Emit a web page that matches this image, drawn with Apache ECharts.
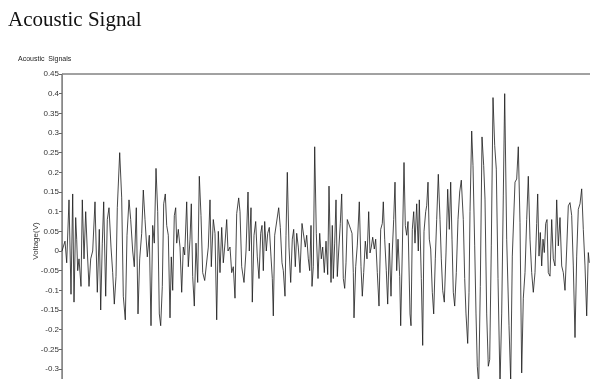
<!DOCTYPE html>
<html>
<head>
<meta charset="utf-8">
<script src="https://cdn.jsdelivr.net/npm/echarts@6/dist/echarts.min.js"></script>
<style>
  html, body { margin: 0; padding: 0; background: #fff; overflow: hidden; }
  #chart { width: 600px; height: 440px; }
</style>
</head>
<body>
<div id="chart"></div>
<script>
// time of each sample (ms) and the voltage read at it
const time = [
  0, 3, 4.7, 7, 9, 10.7, 12, 13.7, 14.7, 15.7, 17, 19, 20.3, 22, 23.7, 25.3, 27, 28.7, 30.7, 33,
  35.3, 37.3, 38.7, 40.3, 41.7, 43.7, 45.3, 47, 49, 50.7, 52.3, 54, 55.3, 57.7, 59.7, 61.3, 63.3, 65, 67, 68.7,
  70.7, 72.3, 74.3, 76, 77.7, 79.7, 81.3, 83, 85.3, 87.3,
  89, 90.7, 92.3, 94, 95.7, 97.3, 98.7, 100.3, 101.7, 103.3, 104.7, 106.3, 108, 109.3, 110.7, 112.3, 113.7, 114.7, 116.3, 118,
  119.7, 121.3, 122.7, 124.7, 126.3, 128, 129.3, 130.7, 132.3, 134, 135.7, 137.3, 139, 140.7, 142.7, 144.7, 146.3, 148, 149.3, 151.3,
  153, 154.7, 156.3, 158, 159.7, 161.3, 163, 164.7, 166, 168, 169.7, 171.3, 173, 174.7, 176.7,
  178, 179.7, 182, 184, 186, 187.3, 189, 190.3, 192, 193.7, 195.3, 197, 198.7, 200, 201.3, 202.7, 204.3, 205.7, 207.3, 209,
  210.3, 211.3, 212.7, 214.7, 216.7, 218.3, 220, 221.3, 223, 224, 225.3, 227, 228.7, 230.3, 231.7, 233.3, 234.7, 236.3, 238, 240,
  241.7, 243.3, 244.7, 246.3, 247.7, 249, 250, 251.3, 252.7, 254.3, 256, 257.7, 259.3, 260.7, 262.3, 264, 265.7, 267,
  269, 270.3, 271.3, 272.7, 274, 275.3, 276.7, 278.3, 279.7, 281.3, 282.7, 284, 285.3, 287, 288.7, 290, 291.3, 292, 293.7, 295.3,
  297.3, 299, 300.3, 301.7, 303.3, 305, 306.7, 308, 309.3, 310.7, 312.3, 313.7, 315.3, 317, 318.7, 320.3, 321.3, 322.7, 324.3, 325.7,
  327.3, 329, 330.3, 331.7, 333, 334.7, 336, 337.7, 338.7, 340.3, 342, 343.3, 344.7, 346, 348, 349, 350.3, 351.7, 353, 354.7,
  356.3, 357.3,
  359.3, 360.7, 362, 363.7, 364.7, 366, 367.3, 368.7, 370.3, 371.7, 373.3, 374.7, 376.3, 378, 379.3, 380.7, 382.3, 384, 385.7, 387.3,
  388.7, 390, 391.3, 392.7, 394.3, 396, 397.7, 399.3, 401.3, 402.7, 404, 405.7, 407, 408, 409.7, 411, 412.7, 414, 415.3, 416.7,
  418.3, 420, 421.7, 423, 424.7, 426.3, 427.7, 429.3, 431, 432.7, 434.3, 436, 438, 439.7, 441.3, 442.7,
  444.7, 447, 448.7, 450.3, 453, 454.7, 456.3, 458, 459.7, 461.3, 463, 464.7, 466.3, 468, 469.7, 471.3, 473, 474.7, 475.7, 477,
  478.3, 479.7, 481, 482.3, 483.7, 485, 486.3, 488, 489.7, 491.3, 493, 494.7, 496.3, 498, 499.7, 501.3, 503, 504.7, 506.3, 508,
  509.7, 511.3, 513, 514.7, 516.3, 518, 519.7, 521.3, 523, 524.7, 526.3, 527.3
]

const voltage = [
  0, 0.025, -0.03, 0.13, -0.11, 0.145, -0.13, 0.085, 0.03, -0.05, -0.02, -0.09, 0.13, -0.02, 0.1, 0, -0.09, -0.02, 0, 0.125,
  -0.105, 0.055, -0.15, 0.02, 0.125, -0.115, 0.08, 0.11, 0.01, -0.055, -0.135, -0.065, 0.11, 0.25, 0.135, -0.115, -0.175, 0.04, 0.13, 0.08,
  0, -0.04, 0.11, -0.16, -0.02, 0.045, 0.155, 0.08, -0.015, 0.04,
  -0.19, 0.065, 0.02, 0.21, 0.1, -0.16, -0.19, -0.09, 0.12, 0.145, 0.065, 0.04, -0.17, -0.015, -0.1, 0.09, 0.11, 0.02, 0.055, 0.01,
  -0.105, 0.01, -0.01, 0.125, -0.04, 0.03, 0.12, -0.065, -0.14, 0.02, -0.08, 0.19, 0.09, -0.055, -0.075, -0.07, 0.01, 0.13, -0.04, 0.08,
  0.045, -0.175, 0.05, -0.055, 0.06, -0.03, 0.02, 0.08, 0, 0.01, -0.055, -0.04, -0.12, 0.095, 0.135,
  0.1, -0.04, -0.08, 0, 0.15, 0, 0.11, -0.13, 0.04, 0.075, -0.015, -0.07, 0.045, 0.065, -0.05, 0.075, 0, 0.045, 0.06, -0.015,
  -0.07, -0.165, 0.04, 0.045, 0.11, 0.06, -0.03, -0.05, -0.115, 0.04, 0.2, 0.01, -0.08, 0.03, 0.055, -0.04, 0.045, 0.01, -0.055, 0.07,
  0.065, 0.01, 0.04, -0.02, -0.05, 0.065, -0.09, -0.04, 0.265, 0.045, -0.07, 0.045, -0.02, 0.01, -0.055, 0.025, -0.06, 0.165,
  -0.08, 0.065, -0.07, 0.02, 0.13, -0.065, 0, 0.07, 0.145, -0.07, -0.095, -0.03, 0.08, 0.085, 0.055, 0.045, -0.055, -0.17, -0.04, 0.015,
  0.125, -0.04, -0.115, -0.055, 0.025, -0.02, 0.1, -0.005, 0.01, 0.035, 0.005, 0.03, -0.055, -0.14, 0.055, 0.07, 0.125, 0.03, -0.05, -0.135,
  0.02, -0.115, 0, 0.08, 0.175, -0.05, 0.03, -0.065, -0.19, 0, 0.225, 0.065, 0.04, 0.075, -0.16, -0.19, 0.055, 0.1, 0.02, 0.12,
  0, 0.13,
  -0.07, -0.24, 0.05, 0.1, 0.115, 0.175, 0.03, 0.005, -0.105, -0.16, -0.02, 0.08, 0.195, 0.08, -0.02, -0.1, -0.13, -0.005, 0.157, 0.055,
  0.175, 0.03, -0.105, -0.14, -0.055, 0.08, 0.15, 0.18, 0.08, -0.07, -0.16, -0.235, -0.105, 0.1, 0.305, 0.217, 0.013, -0.16, -0.293, -0.34,
  -0.09, 0.29, 0.217, 0.132, -0.16, -0.293, -0.276, 0.013, 0.39, 0.268, 0.208, -0.07, -0.34, -0.16, 0.14, 0.4,
  0.03, -0.19, -0.33, -0.013, 0.175, 0.183, 0.265, 0.072, -0.31, -0.12, -0.055, 0.08, 0.19, 0.03, -0.055, -0.105, -0.055, 0.07, 0.145, -0.013,
  0.047, -0.038, 0.03, -0.004, 0.07, 0.08, -0.055, -0.064, 0.08, -0.02, -0.038, 0.13, 0.013, 0.085, -0.038, -0.055, -0.1, 0.005, 0.115, 0.123,
  0.09, -0.038, -0.22, -0.013, 0.106, 0.12, 0.158, 0.055, -0.038, -0.165, -0.004, -0.03
]

const myChart = echarts.init(document.getElementById('chart'))

const option = {
  animation: false,
  title: {
    text: 'Acoustic Signal',
    left: 3,
    top: 5,
    textStyle: {
      fontFamily: 'Liberation Serif',
      fontSize: 21,
      fontWeight: 'normal',
      color: '#111'
    }
  },
  graphic: [
    {
      type: 'text',
      left: 18,
      top: 56,
      style: {
        text: 'Acoustic  Signals',
        font: '7px "Liberation Sans"',
        fill: '#222'
      }
    },
    {
      type: 'text',
      x: 36,
      y: 241,
      rotation: Math.PI / 2,
      style: {
        text: 'Voltage(V)',
        font: '8px "Liberation Sans"',
        fill: '#333',
        align: 'center',
        verticalAlign: 'middle'
      }
    }
  ],
  grid: {
    left: 62,
    right: 0,
    top: 74,
    bottom: 12,
    show: true,
    borderColor: '#444',
    borderWidth: 1
  },
  xAxis: {
    type: 'value',
    min: 0,
    max: 538,
    show: false
  },
  yAxis: {
    type: 'value',
    min: -0.45,
    max: 0.45,
    interval: 0.05,
    axisLine: { show: true, lineStyle: { color: '#888', width: 1 } },
    axisTick: { show: true, length: 3, lineStyle: { color: '#666' } },
    axisLabel: {
      color: '#333',
      fontSize: 8,
      fontFamily: 'Liberation Sans',
      margin: 3
    },
    splitLine: { show: false }
  },
  series: [
    {
      name: 'Acoustic Signals',
      type: 'line',
      data: time.map((t, i) => [t, voltage[i]]),
      symbol: 'none',
      lineStyle: { color: '#1a1a1a', width: 0.8 }
    }
  ]
}

myChart.setOption(option)
</script>
</body>
</html>
